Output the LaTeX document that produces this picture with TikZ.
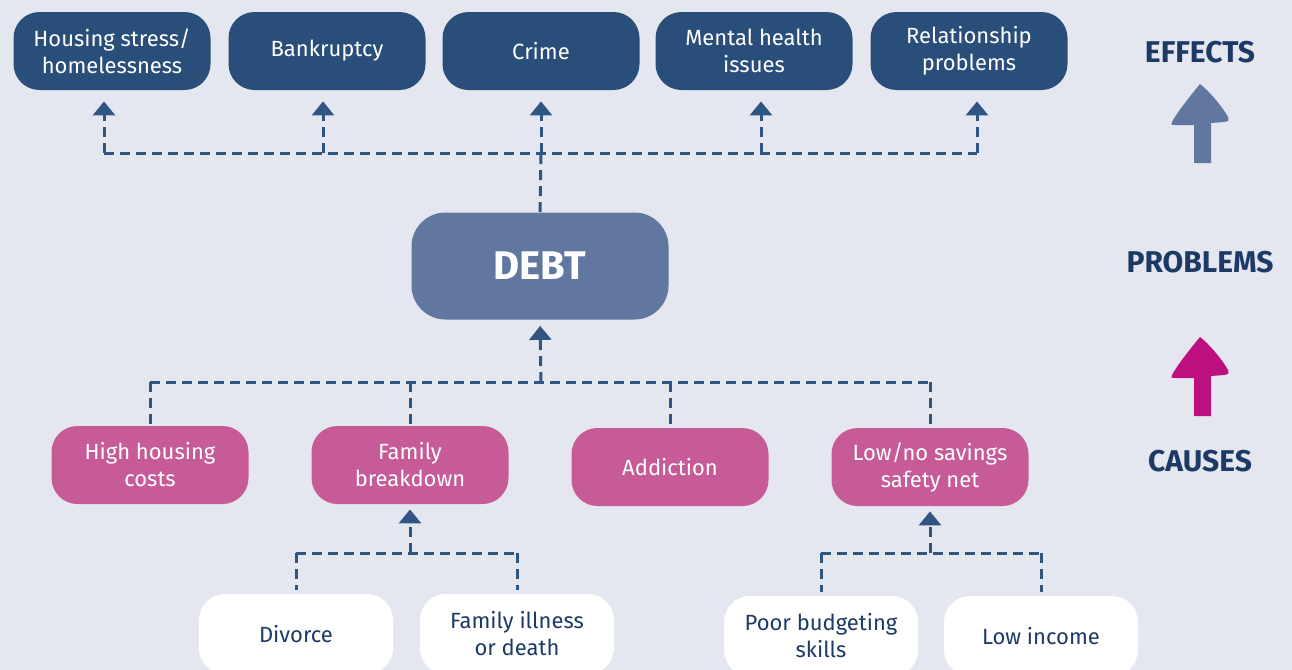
\documentclass[tikz,border=0pt]{standalone}
\usepackage{fontspec}
\setmainfont{Fira Sans}
\usetikzlibrary{arrows.meta}

\definecolor{bgcol}{HTML}{E4E7F0}
\definecolor{effectblue}{HTML}{2A4E7A}
\definecolor{debtblue}{HTML}{6078A0}
\definecolor{causepink}{HTML}{C75B97}
\definecolor{linkblue}{HTML}{2F5583}
\definecolor{textnavy}{HTML}{1D3A66}
\definecolor{arrowpink}{HTML}{BE0F7F}

\tikzset{
  box/.style={rounded corners=13pt, minimum width=98.5pt, minimum height=39pt,
    align=center, inner sep=2pt, font=\fontsize{11}{13.5}\selectfont},
  effect/.style={box, fill=effectblue, text=white},
  problem/.style={box, fill=debtblue, text=white, minimum width=128.5pt,
    minimum height=53.5pt, rounded corners=17pt, font=\fontsize{20}{24}\selectfont\bfseries},
  cause/.style={box, fill=causepink, text=white},
  factor/.style={box, fill=white, text=textnavy, minimum width=97pt, minimum height=40pt},
  link/.style={linkblue, line width=1.5pt, dash pattern=on 5pt off 3pt},
  uptip/.style={link, -{Triangle[width=11pt,length=7pt]}},
  side/.style={text=textnavy, font=\fontsize{15}{17}\selectfont\bfseries},
}

\begin{document}
\begin{tikzpicture}[x=0.5pt,y=-0.5pt]
  \fill[bgcol] (0,0) rectangle (1292,670);
  \clip (0,0) rectangle (1292,670);

  % effects
  \node[effect] (housing)  at (112,51) {Housing stress/\\homelessness};
  \node[effect] (bankrupt) at (327,51) {Bankruptcy};
  \node[effect] (crime)    at (541,51) {Crime};
  \node[effect] (mental)   at (754,51) {Mental health\\issues};
  \node[effect] (relation) at (969,51) {Relationship\\problems};

  % problem
  \node[problem] (debt) at (540,266) {DEBT};

  % causes
  \node[cause] (hcost)   at (150,465) {High housing\\costs};
  \node[cause] (family)  at (410,465) {Family\\breakdown};
  \node[cause] (addict)  at (670,467) {Addiction};
  \node[cause] (savings) at (930,467) {Low/no savings\\safety net};

  % underlying factors
  \node[factor] (divorce) at (296,634) {Divorce};
  \node[factor] (illness) at (517,634) {Family illness\\or death};
  \node[factor] (budget)  at (821,636) {Poor budgeting\\skills};
  \node[factor] (income)  at (1041,636) {Low income};

  \coordinate (topbus) at (541,153);
  \coordinate (midbus) at (541,382);
  \coordinate (fambus) at (410,553);
  \coordinate (savbus) at (930,553);

  % debt -> effects
  \draw[link] (debt.north) -- (topbus);
  \draw[link] ([xshift=-4pt]housing.south |- topbus) -- ([xshift=4pt]relation.south |- topbus);
  \foreach \n/\dx in {housing/-4pt,bankrupt/-2pt,crime/0pt,mental/3.5pt,relation/4pt}
    \draw[uptip,shorten >=5.5pt] ([xshift=\dx]\n.south |- topbus) -- ([xshift=\dx]\n.south);

  % causes -> debt
  \draw[uptip,shorten >=3pt] (midbus) -- (debt.south);
  \draw[link] (hcost.north |- midbus) -- (savings.north |- midbus);
  \foreach \n in {hcost,family,addict,savings}
    \draw[link] (\n.north |- midbus) -- (\n.north);

  % factors -> causes
  \draw[uptip,shorten >=2.5pt] (fambus) -- (family.south);
  \draw[link] (divorce.north |- fambus) -- (illness.north |- fambus);
  \foreach \n in {divorce,illness}
    \draw[link,shorten >=2pt] (\n.north |- fambus) -- (\n.north);
  \draw[uptip,shorten >=2.5pt] (savbus) -- (savings.south);
  \draw[link] (budget.north |- savbus) -- (income.north |- savbus);
  \foreach \n in {budget,income}
    \draw[link,shorten >=2pt] (\n.north |- savbus) -- (\n.north);

  % side labels
  \node[side] (effects)  at (1200,52)  {EFFECTS};
  \node[side] (problems) at (1200,262) {PROBLEMS};
  \node[side] (causes)   at (1200,461) {CAUSES};

  \foreach \Y/\c in {84/debtblue,337/arrowpink}
    \fill[\c] (1200,\Y) .. controls (1190,\Y+12) and (1176,\Y+30) .. (1172,\Y+38)
      .. controls (1171,\Y+41) .. (1176,\Y+41) -- (1194,\Y+41) -- (1194,\Y+79)
      -- (1211,\Y+79) -- (1211,\Y+39) -- (1224,\Y+38)
      .. controls (1229,\Y+37) .. (1228,\Y+33)
      .. controls (1222,\Y+22) and (1208,\Y+6) .. cycle;
\end{tikzpicture}
\end{document}
